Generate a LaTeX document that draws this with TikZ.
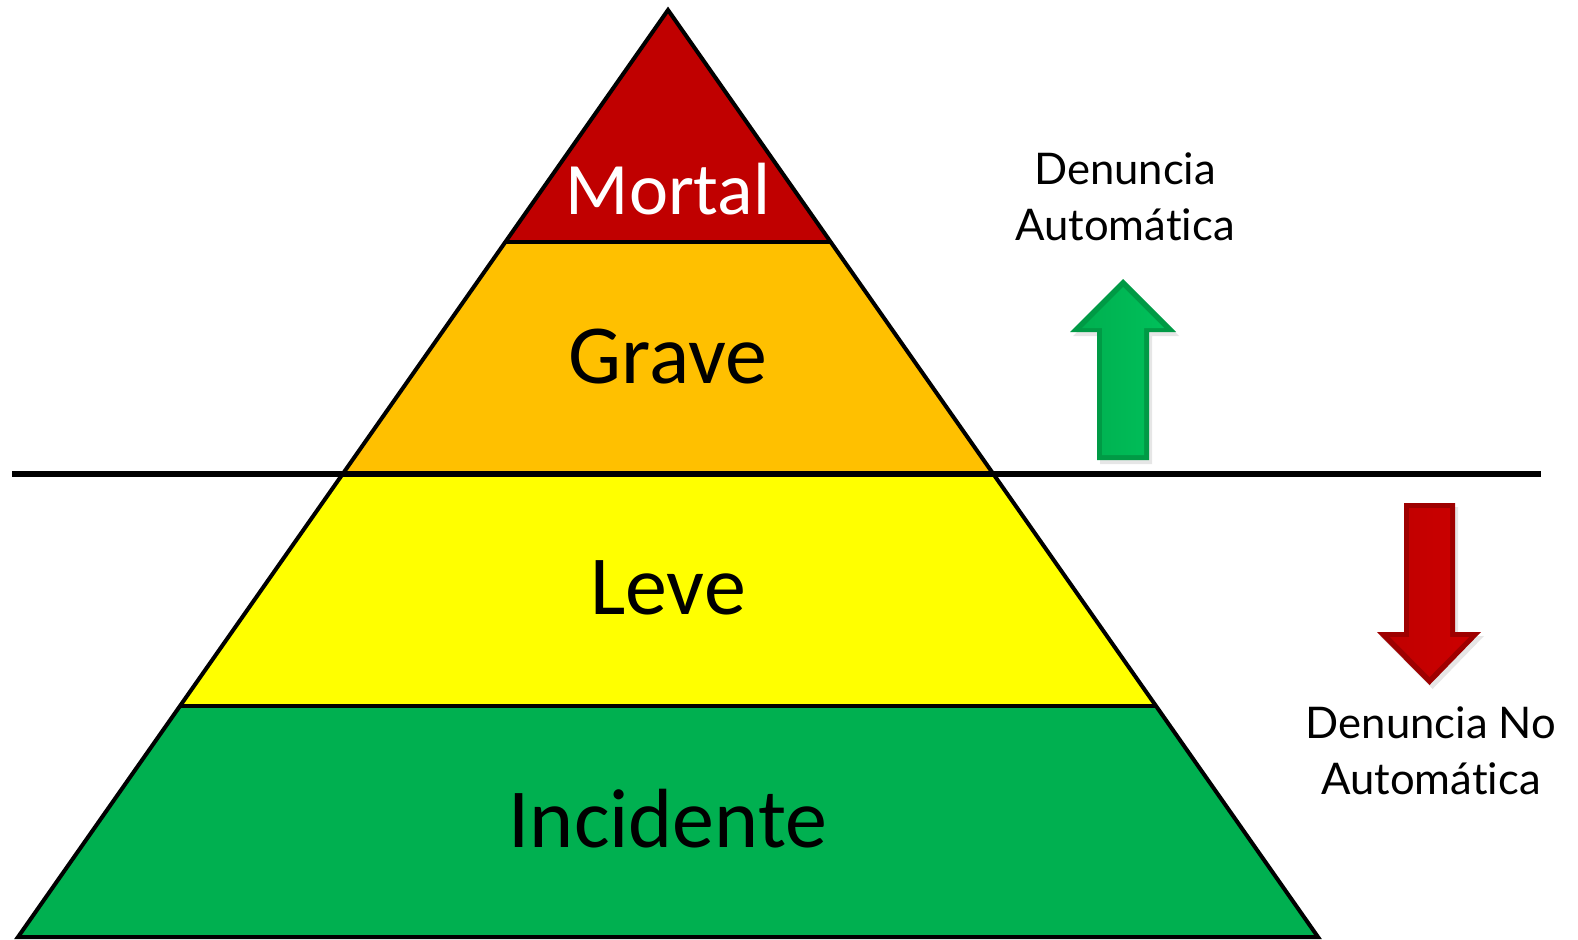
\documentclass[tikz,border=0pt]{standalone}
\usepackage{fontspec}
\newfontfamily\calib{Carlito}
\newfontfamily\gill[Ligatures={NoCommon,NoRare}]{Lato}
\usetikzlibrary{shadows}
\definecolor{cMortal}{HTML}{C00000}
\definecolor{cGrave}{HTML}{FFC000}
\definecolor{cLeve}{HTML}{FFFF00}
\definecolor{cInc}{HTML}{00B050}
\definecolor{gDark}{HTML}{009A45}
\definecolor{gLight}{HTML}{00C05A}
\definecolor{rDark}{HTML}{9E0000}
\definecolor{rLight}{HTML}{CC0000}
\tikzset{
  layer/.style={draw=black,line width=2pt,line join=miter},
  big/.style={inner sep=0pt,anchor=base,font=\calib\fontsize{42}{50}\selectfont},
  side/.style={inner sep=0pt,anchor=base,font=\gill\fontsize{21.8}{26}\selectfont},
  arrowouter/.style={drop shadow={opacity=0.2,shadow xshift=1.5pt,shadow yshift=-2pt}},
}
\begin{document}
\begin{tikzpicture}[x=0.5pt,y=-0.5pt]
\useasboundingbox (0,0) rectangle (1578,939);
% layer corners
\coordinate (apex) at (668,10);
\coordinate (aL) at (505.7,241.5); \coordinate (aR) at (830.3,241.5);
\coordinate (bL) at (342.6,474);   \coordinate (bR) at (993.4,474);
\coordinate (cL) at (180.3,705.5); \coordinate (cR) at (1155.7,705.5);
\coordinate (dL) at (18,937);      \coordinate (dR) at (1318,937);
\fill[cInc] (cL) -- (cR) -- (dR) -- (dL) -- cycle;
\fill[cLeve] (bL) -- (bR) -- (cR) -- (cL) -- cycle;
\fill[cGrave] (aL) -- (aR) -- (bR) -- (bL) -- cycle;
\fill[cMortal] (apex) -- (aR) -- (aL) -- cycle;
\draw[layer] (apex) -- (dR) -- (dL) -- cycle;
\draw[layer] (aL) -- (aR);
\draw[layer] (cL) -- (cR);
% horizontal line
\coordinate (hL) at (12,474); \coordinate (hR) at (1541,474);
\draw[black,line width=2.6pt] (hL) -- (hR);
% labels
\node[big,text=white,font=\calib\fontsize{37}{44}\selectfont] (mortal) at (668,214) {Mortal};
\node[big] (grave) at (668,383) {Grave};
\node[big] (leve) at (668,614) {Leve};
\node[big] (inc) at (668,847) {Incidente};
\node[side] (da1) at (1125,184) {Denuncia};
\node[side] (da2) at (1125,240) {Automática};
\node[side] (dn1) at (1431,738) {Denuncia No};
\node[side] (dn2) at (1431,794) {Automática};
% green up arrow
\fill[gDark,arrowouter] (1097,460) -- (1097,332) -- (1070,332) -- (1123,279) -- (1176,332) -- (1149,332) -- (1149,460) -- cycle;
\shade[left color=cInc,right color=gLight] (1102,455) -- (1102,328) -- (1082,328) -- (1123,287) -- (1164,328) -- (1144,328) -- (1144,455) -- cycle;
% red down arrow
\fill[rDark,arrowouter] (1404,503) -- (1455,503) -- (1455,632) -- (1481,632) -- (1429.5,685) -- (1377,632) -- (1404,632) -- cycle;
\shade[left color=cMortal,right color=rLight] (1409,508) -- (1450,508) -- (1450,637) -- (1469,637) -- (1429.5,677) -- (1390,637) -- (1409,637) -- cycle;
\end{tikzpicture}
\end{document}
